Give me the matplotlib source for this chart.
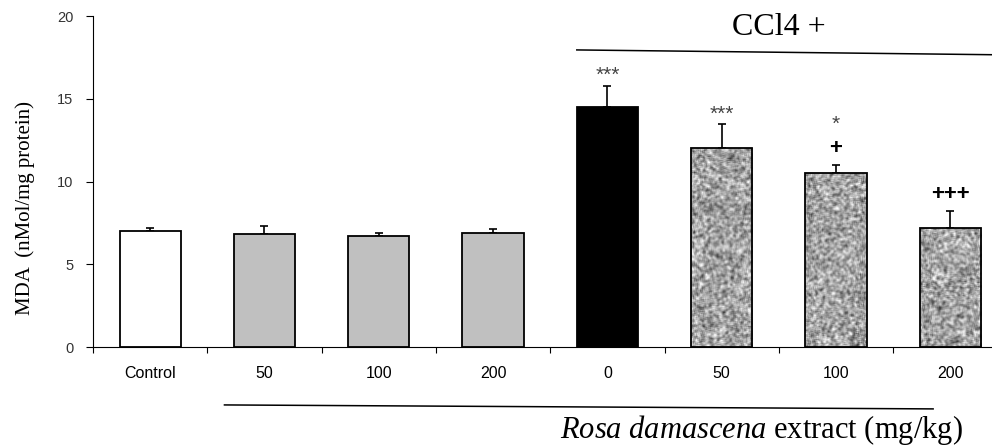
import numpy as np
import matplotlib
matplotlib.use("Agg")
import matplotlib.pyplot as plt
import matplotlib.transforms as mtrans

plt.rcParams['font.family'] = ['Liberation Sans', 'DejaVu Sans']
plt.rcParams['mathtext.fontset'] = 'custom'
plt.rcParams['mathtext.rm'] = 'Liberation Serif'
plt.rcParams['mathtext.it'] = 'Liberation Serif:italic'

# data
labels = ['Control', '50', '100', '200', '0', '50', '100', '200']
mda = [7.0, 6.8, 6.7, 6.9, 14.5, 12.0, 10.5, 7.2]
sem = [0.2, 0.5, 0.2, 0.2, 1.3, 1.45, 0.5, 1.0]
stars = ['', '', '', '', '***', '***', '*', '']
plus = ['', '', '', '', '', '', '+', '+++']
fills = ['white', '#c0c0c0', '#c0c0c0', '#c0c0c0', 'black', 'tex', 'tex', 'tex']
ccl4_group = [4, 5, 6, 7]
extract_group = [1, 2, 3, 4, 5, 6, 7]

x = np.arange(len(labels))
w = 0.535

fig = plt.figure(figsize=(9.92, 4.47), dpi=100)
ax = fig.add_axes([0.09375, 0.2237, 0.9218, 0.7405])

face = ['#b4b4b4' if f == 'tex' else f for f in fills]
bars = ax.bar(x, mda, width=w, color=face, edgecolor='none', zorder=2)

# mottled grey texture for the CCl4 + extract bars
rng = np.random.default_rng(7)
for i, f in enumerate(fills):
    if f != 'tex':
        continue
    nh, nw = int(mda[i] * 16.5), 61
    n = rng.random((nh + 4, nw + 4))
    k = np.ones(3) / 3
    n = np.apply_along_axis(lambda r: np.convolve(r, k, mode='same'), 0, n)
    n = np.apply_along_axis(lambda r: np.convolve(r, k, mode='same'), 1, n)
    n = (n - n.mean()) / n.std()
    im = ax.imshow(n[2:-2, 2:-2], cmap='gray', vmin=-5.0, vmax=2.9,
                   extent=(x[i] - w / 2, x[i] + w / 2, 0, mda[i]),
                   aspect='auto', interpolation='bilinear', zorder=2.2)
    im.set_clip_path(bars[i])

ax.bar(x, mda, width=w, color='none', edgecolor='black', linewidth=1.3, zorder=3)
ax.errorbar(x, mda, yerr=[np.zeros(len(x)), sem], fmt='none', ecolor='black',
            elinewidth=1.2, capsize=3, capthick=1.2, zorder=1.5)

for i in x:
    top = mda[i] + sem[i]
    if plus[i]:
        ax.text(i, top + 1.0, plus[i], ha='center', va='center', fontsize=16,
                fontweight='bold', color='black')
        if stars[i]:
            ax.text(i, top + 2.45, stars[i], ha='center', va='center',
                    fontsize=15, color='#444444')
    elif stars[i]:
        ax.text(i, top + 0.6, stars[i], ha='center', va='center',
                fontsize=15, color='#444444')

ax.set_xlim(-0.5, len(x) - 0.5)
ax.set_ylim(0, 20)
ax.set_yticks([0, 5, 10, 15, 20])
ax.set_xticks(x)
ax.set_xticklabels(labels)
ax.set_xticks(np.arange(len(x) + 1) - 0.5, minor=True)
ax.tick_params(axis='x', which='major', length=0, pad=14, labelsize=11.5)
ax.tick_params(axis='x', which='minor', length=4, width=0.8, direction='out')
ax.tick_params(axis='y', length=5, width=0.8, direction='out', pad=9,
               labelsize=10.5, labelcolor='#333333')
for s in ['top', 'right']:
    ax.spines[s].set_visible(False)
for s in ['left', 'bottom']:
    ax.spines[s].set_linewidth(0.8)

fig.text(25 / 992, 1 - 208 / 447, 'MDA  (nMol/mg protein)', rotation=90,
         ha='center', va='center', fontsize=15, family='Liberation Serif')

# CCl4 group bracket
c0 = ccl4_group[0] - w / 2
c1 = ccl4_group[-1] + 0.5
ax.plot([c0, c1], [17.95, 17.65], color='black', lw=1.1, clip_on=False)
ax.text(np.mean(ccl4_group), 19.3, 'CCl4 +', ha='center', va='center',
        fontsize=23, family='Liberation Serif')

# extract group line and label
tr = mtrans.blended_transform_factory(ax.transData, ax.transAxes)
e0 = extract_group[0] - 0.35
e1 = extract_group[-1] - 0.15
ax.plot([e0, e1], [-0.175, -0.187], color='black', lw=1.1, transform=tr,
        clip_on=False)
ax.text(5.35, -0.25, r'$\mathit{Rosa\ damascena}$ extract (mg/kg)', transform=tr,
        ha='center', va='center', fontsize=22, family='Liberation Serif')

fig.savefig('out.png', dpi=100)
